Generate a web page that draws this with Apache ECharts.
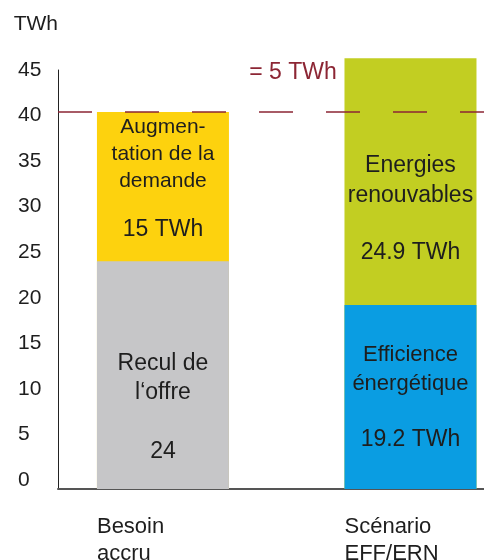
<!DOCTYPE html>
<html>
<head>
<meta charset="utf-8">
<script src="https://cdn.jsdelivr.net/npm/echarts@6.0.0/dist/echarts.min.js"></script>
<style>
  html, body { margin: 0; padding: 0; background: #fff; }
  #chart { width: 484px; height: 560px; }
</style>
</head>
<body>
<div id="chart"></div>
<script>
// the two scenarios, placed on x by their index
const categories = ['Besoin\naccru', 'Scénario\nEFF/ERN'];
const catIndex = [0, 1];

// lower block of each bar (TWh)
const baseNames = ['Recul de\nl‘offre', 'Efficience\nénergétique'];
const baseValues = [24, 19.2];
const baseTexts = ['24', '19.2 TWh'];

// upper block of each bar (TWh, as drawn)
const topNames = ['Augmen-\ntation de la\ndemande', 'Energies\nrenouvables'];
const topValues = [16.4, 27.1];
const topTexts = ['15 TWh', '24.9 TWh'];

// dashed demand level and its note
const demandLevel = 40.4;
const demandNote = '= 5 TWh';

const yTicks = [0, 5, 10, 15, 20, 25, 30, 35, 40, 45];

// colours / text layout per block
const baseColors = ['#c6c6c8', '#0a9de2'];
const topColors = ['#fdd20e', '#c2ce22'];
const baseLayout = [
  { dist: 88, lh: 29, gap: 30, fs: 23, vfs: 23 },
  { dist: 35, lh: 29, gap: 27, fs: 22, vfs: 23 }
];
const topLayout = [
  { dist: 2, lh: 27, gap: 21, fs: 21, vfs: 23 },
  { dist: 92, lh: 30, gap: 27, fs: 23, vfs: 23 }
];

const FONT = 'Liberation Sans, Arial, Helvetica, sans-serif';

function blockLabel(name, text, lay) {
  const lines = name.split('\n').map(l => '{t|' + l + '}').join('\n');
  return {
    show: true,
    position: 'insideTop',
    distance: lay.dist,
    formatter: lines + '\n{s| }\n{v|' + text + '}',
    rich: {
      t: { fontFamily: FONT, fontSize: lay.fs, lineHeight: lay.lh, color: '#1e1e1e', align: 'center' },
      s: { fontSize: 2, lineHeight: lay.gap },
      v: { fontFamily: FONT, fontSize: lay.vfs, lineHeight: lay.lh, color: '#1e1e1e', align: 'center' }
    }
  };
}

// the upper block is drawn as the full bar (base + top), the base block over it
const baseData = baseValues.map((v, i) => ({
  value: [catIndex[i], v],
  itemStyle: { color: baseColors[i] },
  label: blockLabel(baseNames[i], baseTexts[i], baseLayout[i])
}));
const topData = topValues.map((v, i) => ({
  value: [catIndex[i], baseValues[i] + v],
  itemStyle: { color: topColors[i] },
  label: blockLabel(topNames[i], topTexts[i], topLayout[i])
}));

const chart = echarts.init(document.getElementById('chart'));
chart.setOption({
  animation: false,
  backgroundColor: '#fff',
  grid: { left: 58, right: 0, top: 70, bottom: 71, outerBoundsMode: 'none' },
  xAxis: {
    type: 'value',
    min: -0.424,
    max: 1.297,
    splitLine: { show: false },
    axisTick: { show: false },
    axisLine: { show: true, onZero: false, lineStyle: { color: '#555', width: 2 } },
    axisLabel: {
      customValues: catIndex,
      margin: 24,
      formatter: v => {
        const name = categories[Math.round(v)] || '';
        return name.split('\n').map(l => '{c|' + l + '}').join('\n');
      },
      rich: {
        c: { fontFamily: FONT, fontSize: 22, lineHeight: 27, color: '#1e1e1e', width: 132, align: 'left' }
      }
    }
  },
  yAxis: {
    type: 'value',
    min: -1,
    max: 45,
    startValue: -1,
    name: 'TWh',
    nameLocation: 'end',
    nameGap: 46,
    nameTextStyle: { fontFamily: FONT, fontSize: 21, color: '#1e1e1e', align: 'right', verticalAlign: 'middle' },
    splitLine: { show: false },
    axisTick: { show: false },
    axisLine: { show: true, onZero: false, lineStyle: { color: '#222', width: 1 } },
    axisLabel: {
      customValues: yTicks,
      align: 'left',
      margin: 40,
      fontFamily: FONT,
      fontSize: 21,
      color: '#1e1e1e'
    }
  },
  series: [
    {
      name: 'top',
      type: 'bar',
      barWidth: 132,
      barGap: '-100%',
      clip: false,
      data: topData,
      markLine: {
        silent: true,
        symbol: 'none',
        lineStyle: { color: '#8c2634', width: 1.5, type: [34, 33] },
        label: {
          show: true,
          position: 'insideMiddleTop',
          distance: 28,
          offset: [22, 0],
          formatter: demandNote,
          fontFamily: FONT,
          fontSize: 23,
          color: '#8c2634'
        },
        data: [{ yAxis: demandLevel }]
      }
    },
    {
      name: 'base',
      type: 'bar',
      barWidth: 132,
      barGap: '-100%',
      clip: false,
      data: baseData
    }
  ]
});
</script>
</body>
</html>
